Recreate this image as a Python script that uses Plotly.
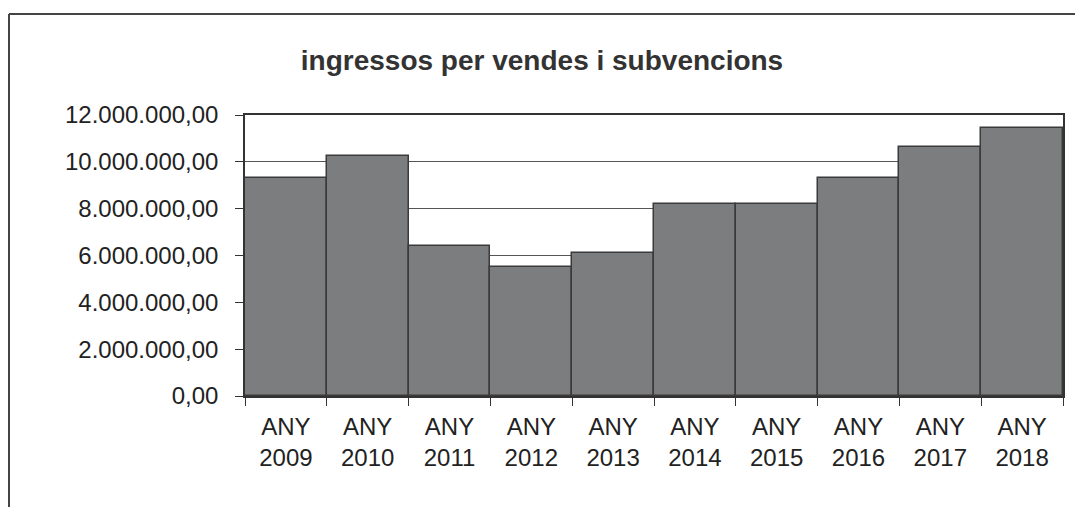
import plotly.graph_objects as go

# data -----------------------------------------------------------------
years = ['2009', '2010', '2011', '2012', '2013', '2014', '2015', '2016', '2017', '2018']
ingressos = [9310000, 10250000, 6410000, 5520000, 6100000, 8200000, 8200000, 9310000, 10650000, 11460000]
y_ticks = [0, 2000000, 4000000, 6000000, 8000000, 10000000, 12000000]

labels = ['ANY<br>' + y for y in years]

FONT = 'Liberation Sans, Arial, sans-serif'
OFF = 8  # page body margin shifts the figure by 8px
W, H = 1083 - OFF, 507 - OFF
L, T = 245 - OFF, 115 - OFF
R = W - (1063 - OFF)
B = H - (396 - OFF)

fig = go.Figure(
    go.Bar(
        x=labels,
        y=ingressos,
        marker=dict(color='#7c7d7f', line=dict(color='#3a3a3a', width=1.5)),
    )
)

fig.update_layout(
    width=W,
    height=H,
    margin=dict(l=L, r=R, t=T, b=B),
    paper_bgcolor='white',
    plot_bgcolor='white',
    bargap=0,
    separators=',.',
    showlegend=False,
    font=dict(family=FONT, size=24, color='#222'),
    title=dict(
        text='<b>ingressos per vendes i subvencions</b>',
        x=(542 - OFF) / W,
        xanchor='center',
        y=1 - (60 - OFF) / H,
        yanchor='middle',
        font=dict(family=FONT, size=28, color='#333'),
    ),
)

fig.update_yaxes(
    range=[0, 12000000],
    tickvals=y_ticks,
    tickformat=',.2f',
    showgrid=True,
    gridcolor='#555',
    gridwidth=1,
    showline=True,
    linecolor='#333',
    linewidth=1.5,
    mirror=True,
    ticks='outside',
    ticklen=8,
    tickcolor='#333',
    ticklabelstandoff=12,
    zeroline=False,
    tickfont=dict(size=24, color='#222'),
)

fig.update_xaxes(
    tickson='boundaries',
    ticks='outside',
    ticklen=8,
    tickcolor='#333',
    showline=True,
    linecolor='#333',
    linewidth=2,
    mirror=True,
    showgrid=False,
    ticklabelstandoff=8,
    tickfont=dict(size=24, color='#222'),
)

# outer frame of the scanned chart (top and left edges)
pw, ph = W - L - R, H - T - B
top = 1 + (T - (14 - OFF)) / ph
left = ((8 - OFF) - L) / pw + 1 / pw
fig.add_shape(type='line', xref='paper', yref='paper',
              x0=left, x1=((1078 - OFF) - L) / pw, y0=top, y1=top,
              line=dict(color='#444', width=2))
fig.add_shape(type='line', xref='paper', yref='paper',
              x0=left, x1=left, y0=top, y1=-(B + 5) / ph,
              line=dict(color='#444', width=2))

fig.write_html('out.html')
